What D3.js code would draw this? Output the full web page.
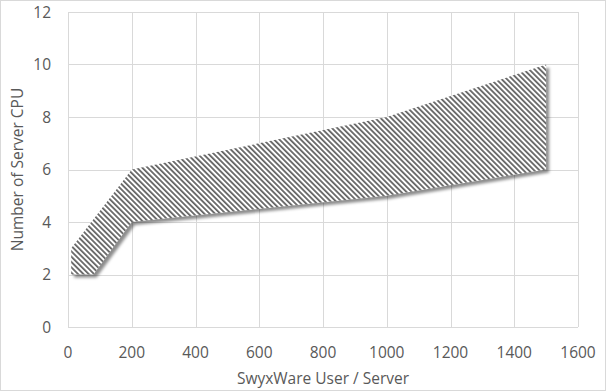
<!DOCTYPE html>
<html>
<head>
<meta charset="utf-8">
<script src="https://cdn.jsdelivr.net/npm/d3@7"></script>
<style>
  html, body { margin: 0; padding: 0; background: #fff; }
  svg { display: block; }
  text { font-family: "Open Sans", "Noto Sans", sans-serif; fill: #595959; }
</style>
</head>
<body>
<script>
// ---- data ----
const upperUsers = [10, 200, 1000, 1500];
const maxCpu     = [3, 6, 8, 10];
const lowerUsers = [10, 80, 200, 1000, 1500];
const minCpu     = [2, 2, 4, 5, 6];
const xTicks = [0, 200, 400, 600, 800, 1000, 1200, 1400, 1600];
const yTicks = [0, 2, 4, 6, 8, 10, 12];
const xTitle = "SwyxWare User / Server";
const yTitle = "Number of Server CPU";

const W = 606, H = 392;
const svg = d3.select("body").append("svg").attr("width", W).attr("height", H);

const x = d3.scaleLinear().domain([0, 1600]).range([68, 578]);
const y = d3.scaleLinear().domain([0, 12]).range([327, 12]);

const defs = svg.append("defs");
const pat = defs.append("pattern")
  .attr("id", "hatch")
  .attr("patternUnits", "userSpaceOnUse")
  .attr("width", 3.77).attr("height", 10)
  .attr("patternTransform", "rotate(-45)");
pat.append("rect").attr("x", 0).attr("y", 0).attr("width", 1.8).attr("height", 10).attr("fill", "#666666");

const blur = defs.append("filter").attr("id", "shadow")
  .attr("x", "-10%").attr("y", "-10%").attr("width", "120%").attr("height", "130%");
blur.append("feGaussianBlur").attr("stdDeviation", 1.8);

// outer border
svg.append("rect").attr("x", 0.5).attr("y", 0.5).attr("width", 605).attr("height", 390)
  .attr("fill", "#fff").attr("stroke", "#d9d9d9");

// gridlines
const g = svg.append("g");
g.selectAll(".vg").data(xTicks).join("line")
  .attr("x1", d => Math.round(x(d)) + 0.5).attr("x2", d => Math.round(x(d)) + 0.5)
  .attr("y1", y(12)).attr("y2", y(0))
  .attr("stroke", "#d9d9d9");
g.selectAll(".hg").data(yTicks).join("line")
  .attr("x1", x(0)).attr("x2", x(1600))
  .attr("y1", d => Math.round(y(d)) + 0.5).attr("y2", d => Math.round(y(d)) + 0.5)
  .attr("stroke", "#d9d9d9");

// area polygon
const pts = upperUsers.map((u, i) => [u, maxCpu[i]])
  .concat(lowerUsers.map((u, i) => [u, minCpu[i]]).reverse());
const line = d3.line().x(d => x(d[0])).y(d => y(d[1]));
const pathD = line(pts) + "Z";

svg.append("path").attr("d", pathD)
  .attr("fill", "#000").attr("fill-opacity", 0.45)
  .attr("transform", "translate(3,3)")
  .attr("filter", "url(#shadow)");
svg.append("path").attr("d", pathD).attr("fill", "#fff");
svg.append("path").attr("d", pathD).attr("fill", "url(#hatch)");

// tick labels
svg.selectAll(".xl").data(xTicks).join("text")
  .attr("x", d => x(d)).attr("y", 358)
  .attr("text-anchor", "middle").attr("font-size", 15.5)
  .text(d => d);
svg.selectAll(".yl").data(yTicks).join("text")
  .attr("x", 51).attr("y", d => y(d) + 5.5)
  .attr("text-anchor", "end").attr("font-size", 15.5)
  .text(d => d);

// axis titles
svg.append("text").attr("x", (x(0) + x(1600)) / 2).attr("y", 384)
  .attr("text-anchor", "middle").attr("font-size", 15.5).text(xTitle);
svg.append("text")
  .attr("transform", `translate(23,${(y(0) + y(12)) / 2}) rotate(-90)`)
  .attr("text-anchor", "middle").attr("font-size", 15.5).text(yTitle);
</script>
</body>
</html>
